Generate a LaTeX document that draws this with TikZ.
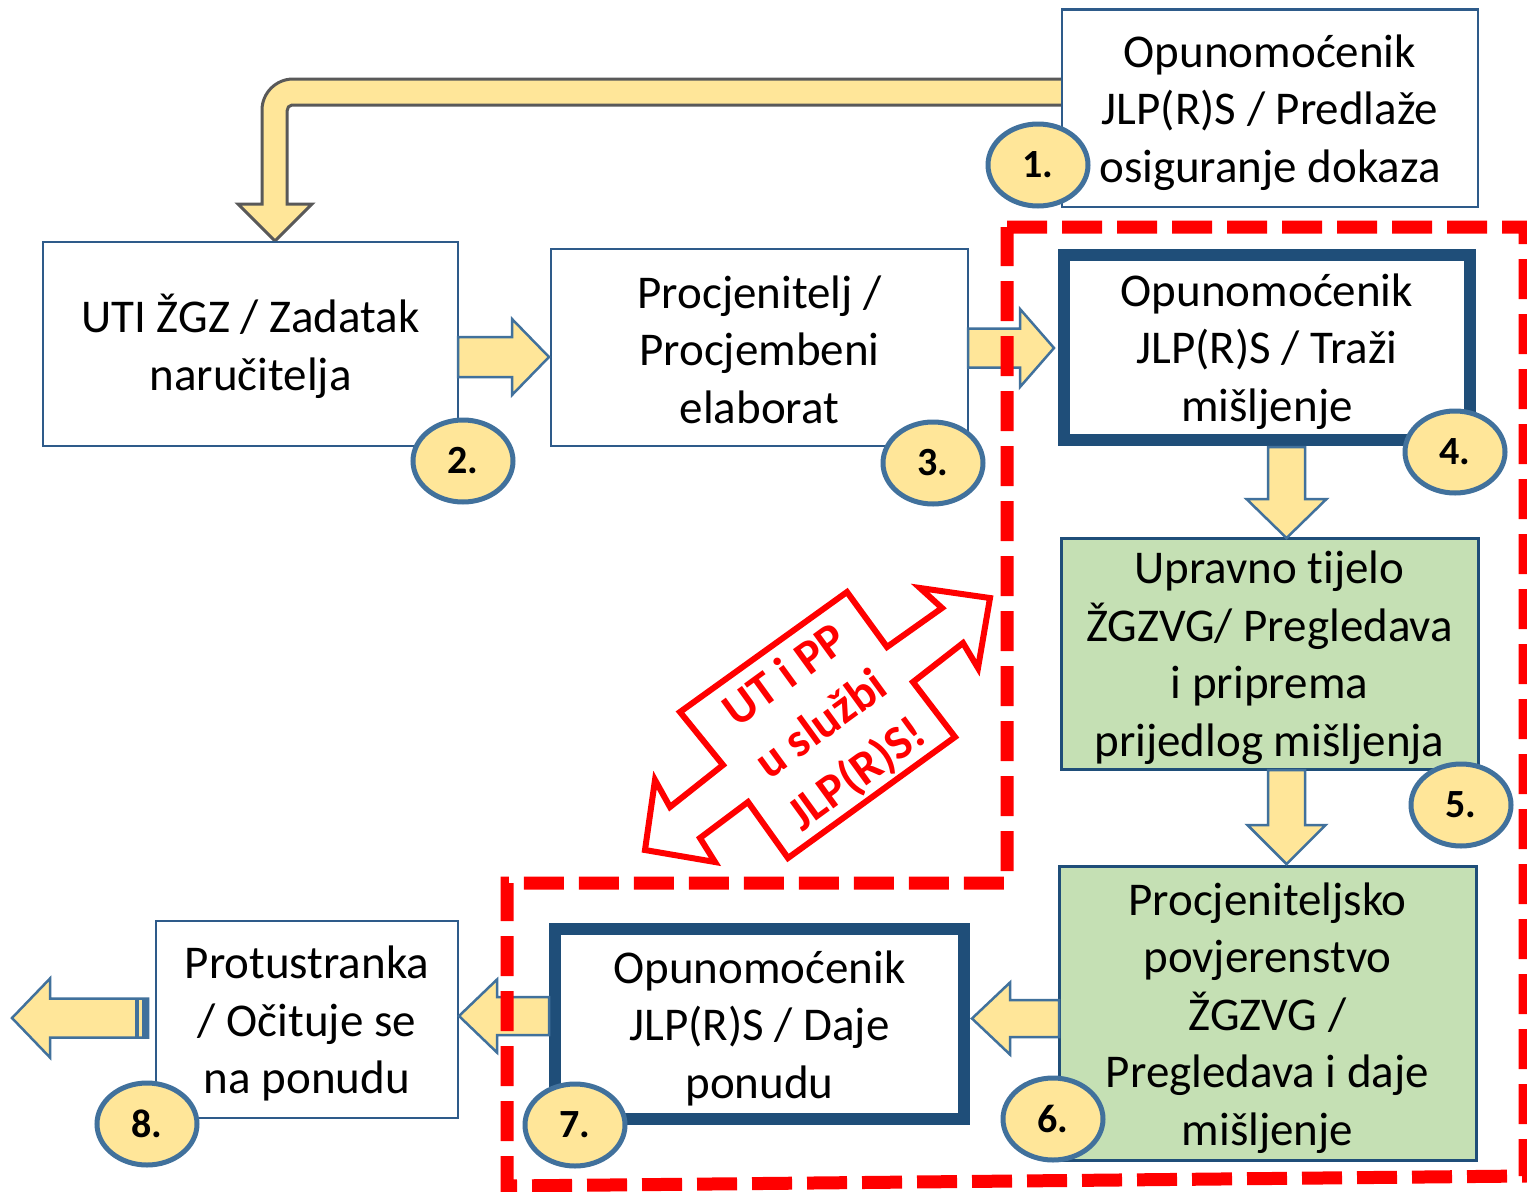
\documentclass[tikz,border=0pt]{standalone}
\usepackage{fontspec}
\setmainfont{Carlito}[Ligatures=NoCommon]
\usetikzlibrary{shapes.geometric}
\definecolor{boxblue}{HTML}{2E5B8A}
\definecolor{darkblue}{HTML}{1F4E79}
\definecolor{arrfill}{HTML}{FFE699}
\definecolor{arrline}{HTML}{41719C}
\definecolor{greenfill}{HTML}{C5E0B4}
\definecolor{curvline}{HTML}{595959}
\newcommand\myharrow[6]{% start x, head base x, tip x, centre y, shaft half, head half
  \filldraw[blockarrow] (#1,#4-#5) -- (#2,#4-#5) -- (#2,#4-#6) -- (#3,#4) -- (#2,#4+#6) -- (#2,#4+#5) -- (#1,#4+#5) -- cycle;}
\newcommand\myvarrow[6]{% start y, head base y, tip y, centre x, shaft half, head half
  \filldraw[blockarrow] (#4-#5,#1) -- (#4-#5,#2) -- (#4-#6,#2) -- (#4,#3) -- (#4+#6,#2) -- (#4+#5,#2) -- (#4+#5,#1) -- cycle;}
\tikzset{
  box/.style={draw=boxblue, line width=2.5pt, fill=white, inner sep=0pt},
  thickbox/.style={box, draw=darkblue, line width=12pt},
  greenbox/.style={box, draw=darkblue, line width=3pt, fill=greenfill},
  boxtext/.style={inner sep=0pt, align=center, font=\fontsize{47}{57.5}\selectfont},
  numcirc/.style={ellipse, draw=arrline, line width=5pt, fill=arrfill, minimum width=100pt,
    minimum height=82pt, inner sep=0pt, font=\fontsize{40}{44}\selectfont\bfseries},
  blockarrow/.style={fill=arrfill, draw=arrline, line width=2.5pt, line join=miter},
  reddash/.style={draw=red, line width=13pt, dash pattern=on 40pt off 15pt},
  redarrow/.style={draw=red, fill=white, line width=6pt, line join=miter},
  redtext/.style={text=red, align=center, font=\fontsize{48}{61}\selectfont\bfseries},
}
\begin{document}
\begin{tikzpicture}[x=1pt,y=-1pt]
\useasboundingbox[fill=white] (0,0) rectangle (1527,1192);

% curved arrow from box 1 to box 2
\filldraw[fill=arrfill, draw=curvline, line width=3pt, line join=miter]
  (1070,79) -- (293,79) .. controls (276,79) and (262,93) .. (262,110) -- (262,204)
  -- (238,204) -- (275,241) -- (312,204) -- (287,204) -- (287,111)
  .. controls (287,108) and (289,105) .. (292,105) -- (1070,105) -- cycle;

% boxes
\node[box, minimum width=416pt, minimum height=197.5pt] (b1) at (1270,108.25) {};
\node[box, minimum width=415pt, minimum height=204pt] (b2) at (250.5,344) {};
\node[box, minimum width=417pt, minimum height=197pt] (b3) at (759.5,347.5) {};
\node[thickbox, minimum width=406pt, minimum height=185pt] (b4) at (1267,347.5) {};
\node[greenbox, minimum width=417pt, minimum height=231pt] (b5) at (1269.5,653.5) {};
\node[greenbox, minimum width=417pt, minimum height=294pt] (b6) at (1267.5,1013) {};
\node[thickbox, minimum width=409pt, minimum height=190pt] (b7) at (759.5,1024) {};
\node[box, minimum width=302pt, minimum height=197pt] (b8) at (307,1019.5) {};

% box texts
\node[boxtext] (t1) at ([yshift=-4pt]b1.center) {Opunomoćenik\\JLP(R)S / Predlaže\\osiguranje dokaza};
\node[boxtext] (t2) at ([yshift=-2.5pt]b2.center) {UTI ŽGZ / Zadatak\\naručitelja};
\node[boxtext] (t3) at ([yshift=-2pt]b3.center) {Procjenitelj /\\Procjembeni\\elaborat};
\node[boxtext] (t4) at ([yshift=-4pt]b4.center) {Opunomoćenik\\JLP(R)S / Traži\\mišljenje};
\node[boxtext] (t5) at ([yshift=-4pt]b5.center) {Upravno tijelo\\ŽGZVG/ Pregledava\\i priprema\\prijedlog mišljenja};
\node[boxtext] (t6) at ([yshift=-5pt]b6.center) {Procjeniteljsko\\povjerenstvo\\ŽGZVG /\\Pregledava i daje\\mišljenje};
\node[boxtext] (t7) at ([yshift=-4pt]b7.center) {Opunomoćenik\\JLP(R)S / Daje\\ponudu};
\node[boxtext] (t8) at ([yshift=-4pt]b8.center) {Protustranka\\/ Očituje se\\na ponudu};

% block arrows
\myharrow{458}{512}{549}{357}{20}{38}
\myharrow{968}{1020}{1054}{348}{19.5}{39}
\myvarrow{447}{499}{538}{1286.5}{18.5}{40}
\myvarrow{770}{825}{864}{1286.5}{18.5}{39}
\myharrow{1059}{1010}{972}{1018.5}{18.5}{36}
\myharrow{549}{497}{459}{1016}{19}{36.5}
\myharrow{148}{50}{12}{1018}{19.5}{39.5}
\fill[arrline] (135,998.5) rectangle (138.5,1037.5);
\fill[arrline] (142,998.5) rectangle (148,1037.5);

% number circles
\node[numcirc] (c1) at (1038,165) {1.};
\node[numcirc] (c2) at (463,461) {2.};
\node[numcirc] (c3) at (933,463) {3.};
\node[numcirc] (c4) at (1455,452) {4.};
\node[numcirc] (c5) at (1461,805) {5.};
\node[numcirc] (c6) at (1053,1119) {6.};
\node[numcirc] (c7) at (575,1125) {7.};
\node[numcirc] (c8) at (147,1124) {8.};

% red dashed frame
\draw[reddash] (1007,227) -- (1525,227) -- (1525,1176) -- (507,1186) -- (507,883) -- (1007,883) -- cycle;

% red double arrow
\filldraw[redarrow] (990,598) -- (920,588) -- (942,608) -- (887,647) -- (847,592) -- (680,712)
  -- (723,765) -- (670,807) -- (655,780) -- (645,850) -- (715,862) -- (700,838) -- (748,802)
  -- (788,858) -- (955,737) -- (913,682) -- (963,643) -- (978,668) -- cycle;
\node[redtext, rotate=36] (rt) at (822,726) {UT i PP\\u službi\\JLP(R)S!};
\end{tikzpicture}
\end{document}
